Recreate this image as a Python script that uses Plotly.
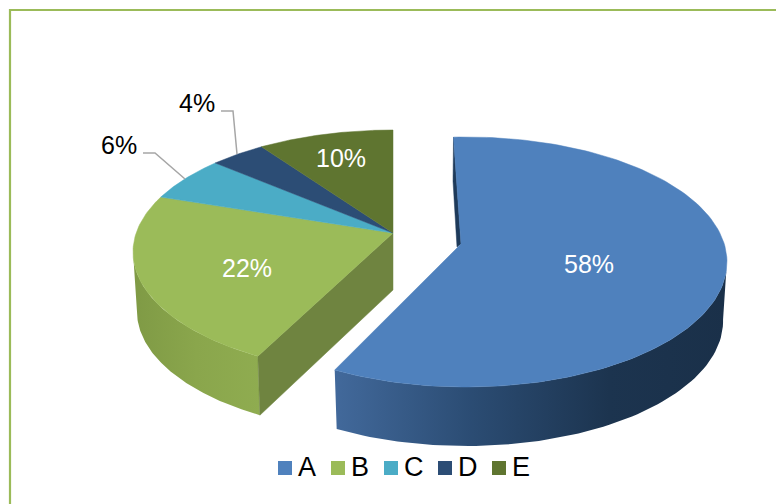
import math
import plotly.graph_objects as go

categories = ["A", "B", "C", "D", "E"]
shares = [58, 22, 6, 4, 10]
top_colors = ["#4F81BD", "#9BBB59", "#4BACC6", "#2C4D75", "#5F7530"]


def rim(theta, apex, center, a, b, k, k_low, shear):
    c = math.cos(theta)
    dx = (k if c >= 0 else k_low) * math.sin(theta) - shear * c
    dy = -c
    ox, oy = (apex[0] - center[0]) / a, (apex[1] - center[1]) / b
    ux, uy = dx / a, dy / b
    qa = ux * ux + uy * uy
    qb = 2 * (ox * ux + oy * uy)
    qc = ox * ox + oy * oy - 1
    t = (-qb + math.sqrt(qb * qb - 4 * qa * qc)) / (2 * qa)
    return apex[0] + t * dx, apex[1] + t * dy


def arc(t0, t1, g, n=140):
    return [rim(t0 + (t1 - t0) * i / n, g["apex"], g["center"], g["a"], g["b"], g["k"], g["k_low"], g["shear"])
            for i in range(n + 1)]


def lower(pts, g):
    cx = g["center"][0]
    return [(cx + (x - cx) * 0.985, y + g["depth"]) for x, y in pts]


def poly(fig, pts, color=None, gradient=None):
    xs = [p[0] for p in pts] + [pts[0][0]]
    ys = [p[1] for p in pts] + [pts[0][1]]
    kw = dict(fillgradient=dict(type="horizontal", colorscale=gradient)) if gradient else dict(fillcolor=color)
    fig.add_trace(go.Scatter(x=xs, y=ys, mode="lines", fill="toself", line=dict(width=0.5, color=color or "rgba(0,0,0,0)"),
                             hoverinfo="skip", showlegend=False, **kw))


main = dict(apex=(461, 244), center=(466, 262), a=261, b=125, k=1.95, k_low=1.95, shear=0.07, depth=59)
rest = dict(apex=(393, 233), center=(393, 252), a=260, b=122, k=2.1, k_low=1.995, shear=0.0, depth=59)

total = sum(shares)
angles = [0]
for v in shares:
    angles.append(angles[-1] + v / total * 2 * math.pi)

fig = go.Figure()

# exploded slice: outer wall, inner sliver, top
a_arc = arc(angles[0], angles[1], main)
i_right = max(range(len(a_arc)), key=lambda i: a_arc[i][0])
a_wall = a_arc[i_right:]
poly(fig, a_wall + lower(a_wall, main)[::-1], gradient=[[0, "#42699B"], [0.35, "#2B4C73"], [0.7, "#1C344F"], [1, "#1A3049"]])
tx, ty = a_arc[0]
ax, ay = main["apex"]
poly(fig, [(tx, ty), (tx - 0.5, ty + 44), (ax - 4, ay + 3), (ax, ay)], color="#1E3A5A")
poly(fig, [main["apex"]] + a_arc, color=top_colors[0])

# remaining slices: outer wall of B, cut face, tops
b_arc = arc(angles[1], angles[2], rest)
i_left = min(range(len(b_arc)), key=lambda i: b_arc[i][0])
b_wall = b_arc[:i_left + 1]
poly(fig, b_wall + lower(b_wall, rest)[::-1], gradient=[[0, "#7F9A45"], [0.5, "#8AA64C"], [1, "#8FAC50"]])
bx, by = b_arc[0]
rx, ry = rest["apex"]
poly(fig, [(rx, ry), (bx, by), lower([(bx, by)], rest)[0], (rx, ry + 57)], color="#6F8440")
for i in range(1, 5):
    poly(fig, [rest["apex"]] + arc(angles[i], angles[i + 1], rest, n=80), color=top_colors[i])

# legend: swatches and names
swatch_x = [285, 338, 391, 445, 499]
name_x = [296, 349, 402, 456, 510]
legend_y = 468
for name, color, sx in zip(categories, top_colors, swatch_x):
    fig.add_trace(go.Scatter(x=[sx], y=[legend_y], mode="markers", name=name, showlegend=False, hoverinfo="name",
                             marker=dict(symbol="square", size=14, color=color, line=dict(width=0))))

font = "Liberation Sans, Arial, sans-serif"
label_spots = [(589, 264, "white"), (247, 268, "white"), (119, 145, "black"), (197, 103, "black"), (341, 158, "white")]
annotations = [dict(x=x, y=y, xref="x", yref="y", text=f"{v}%", showarrow=False,
                    font=dict(family=font, size=25, color=c))
               for v, (x, y, c) in zip(shares, label_spots)]
annotations += [dict(x=x, y=legend_y - 1, xref="x", yref="y", text=n, showarrow=False, xanchor="left",
                     font=dict(family=font, size=27, color="black"))
                for n, x in zip(categories, name_x)]

leader = dict(type="path", xref="x", yref="y", line=dict(color="#A6A6A6", width=1.5))
frame = dict(type="path", xref="x", yref="y", line=dict(color="#9BBB59", width=2.2))
shapes = [
    {**frame, "path": "M 10 504 L 10 10 L 776 10"},
    {**leader, "path": "M 143 153 L 155 153 L 185 179"},
    {**leader, "path": "M 221 111 L 233 111 L 237 154"},
]

fig.update_layout(
    width=776, height=504, margin=dict(l=0, r=0, t=0, b=0),
    paper_bgcolor="white", plot_bgcolor="white",
    xaxis=dict(range=[0, 776], visible=False, fixedrange=True),
    yaxis=dict(range=[504, 0], visible=False, fixedrange=True),
    shapes=shapes, annotations=annotations, showlegend=False,
    font=dict(family=font, color="black"),
)
fig.write_html("out.html", config={"displayModeBar": False},
               post_script="document.body.style.margin='0';document.documentElement.style.overflow='hidden';")
